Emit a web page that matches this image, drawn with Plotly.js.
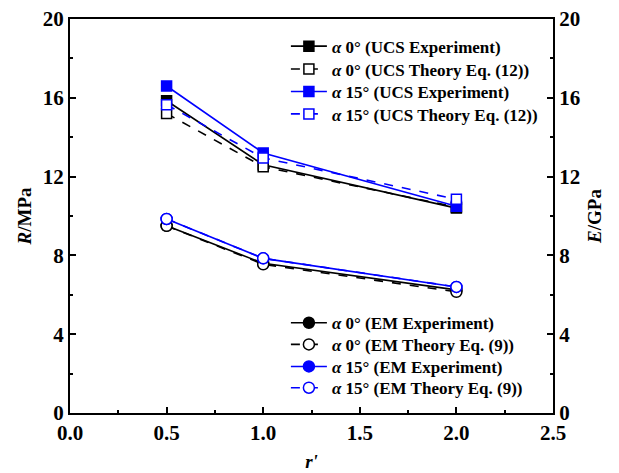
<!DOCTYPE html>
<html><head><meta charset="utf-8">
<script src="https://cdn.plot.ly/plotly-3.0.1.min.js"></script>
<style>body{margin:0;background:#fff}</style></head>
<body><div id="chart" style="width:619px;height:473px"></div>
<script>
const rPrime = [0.5, 1.0, 2.0];
const ucsExp0 = [15.85, 12.6, 10.4];
const ucsTheory0 = [15.2, 12.5, 10.45];
const ucsExp15 = [16.6, 13.2, 10.5];
const ucsTheory15 = [15.65, 12.95, 10.85];
const emExp0 = [9.5, 7.6, 6.25];
const emTheory0 = [9.5, 7.55, 6.15];
const emExp15 = [9.85, 7.85, 6.4];
const emTheory15 = [9.85, 7.85, 6.4];
const seriesNames = [
  '<i>α</i> 0° (UCS Experiment)', '<i>α</i> 0° (UCS Theory Eq. (12))',
  '<i>α</i> 15° (UCS Experiment)', '<i>α</i> 15° (UCS Theory Eq. (12))',
  '<i>α</i> 0° (EM Experiment)', '<i>α</i> 0° (EM Theory Eq. (9))',
  '<i>α</i> 15° (EM Experiment)', '<i>α</i> 15° (EM Theory Eq. (9))'
];
const xTickVals = [0, 0.5, 1.0, 1.5, 2.0, 2.5];
const xTickText = ['0.0', '0.5', '1.0', '1.5', '2.0', '2.5'];
const yTickVals = [0, 4, 8, 12, 16, 20];
const yTickText = ['0', '4', '8', '12', '16', '20'];

const F = 'Liberation Serif';
const BLUE = '#0000ff';
const legendIds = ['legend','legend2','legend3','legend4','legend5','legend6','legend7','legend8'];
function tr(i, y, color, dash, symbol, open, yaxis){
  return {x: rPrime, y: y, name: '<b>' + seriesNames[i] + '</b>', type:'scatter', mode:'lines+markers',
    yaxis: yaxis, legend: legendIds[i],
    line:{color:color, width:1.6, dash:dash},
    marker:{symbol:symbol, size: symbol === 'square' ? 10 : 11, color: open ? '#fff' : color,
      line:{color:color, width:1.5}}};
}
const data = [
  tr(0, ucsExp0, '#000', 'solid', 'square', false, 'y'),
  tr(1, ucsTheory0, '#000', 'dash', 'square', true, 'y'),
  tr(2, ucsExp15, BLUE, 'solid', 'square', false, 'y'),
  tr(3, ucsTheory15, BLUE, 'dash', 'square', true, 'y'),
  tr(4, emExp0, '#000', 'solid', 'circle', false, 'y2'),
  tr(5, emTheory0, '#000', 'dash', 'circle', true, 'y2'),
  tr(6, emExp15, BLUE, 'solid', 'circle', false, 'y2'),
  tr(7, emTheory15, BLUE, 'dash', 'circle', true, 'y2')
];
const bold = a => a.map(s => '<b>' + s + '</b>');
const tickFont = {family:F, size:21, color:'#000', weight:'bold'};
const legFont = {family:F, size:17, color:'#000'};
const titleFont = {family:F, size:19, color:'#000'};
const minorY = {dtick:2, ticks:'inside', ticklen:3, tickwidth:2, tickcolor:'#000'};
const layout = {
  width:619, height:473,
  margin:{l:70, r:66, t:19, b:60},
  paper_bgcolor:'#fff', plot_bgcolor:'#fff',
  font:{family:F, color:'#000'},
  xaxis:{range:[0,2.5], tickmode:'array', tickvals:xTickVals, ticktext:bold(xTickText),
    showgrid:false, zeroline:false,
    showline:true, linewidth:2, linecolor:'#000', mirror:true,
    ticks:'inside', ticklen:6, tickwidth:2, tickcolor:'#000',
    minor:{dtick:0.25, ticks:'inside', ticklen:3, tickwidth:2, tickcolor:'#000'},
    tickfont:tickFont,
    title:{text:'<b><i>r\'</i></b>', font:titleFont, standoff:10}},
  yaxis:{range:[0,20], tickmode:'array', tickvals:yTickVals, ticktext:bold(yTickText),
    showgrid:false, zeroline:false,
    showline:true, linewidth:2, linecolor:'#000',
    ticks:'inside', ticklen:6, tickwidth:2, tickcolor:'#000',
    minor:minorY, tickfont:tickFont,
    title:{text:'<b><i>R</i>/MPa</b>', font:titleFont, standoff:6}},
  yaxis2:{range:[0,20], tickmode:'array', tickvals:yTickVals, ticktext:bold(yTickText),
    overlaying:'y', side:'right', showgrid:false, zeroline:false,
    showline:true, linewidth:2, linecolor:'#000',
    ticks:'inside', ticklen:6, tickwidth:2, tickcolor:'#000',
    minor:minorY, tickfont:tickFont,
    title:{text:'<b><i>E</i>/GPa</b>', font:titleFont, standoff:8}},
  showlegend:true
};
const rowY = [0.930, 0.872, 0.815, 0.758, 0.228, 0.173, 0.117, 0.063];
rowY.forEach((yy, i) => {
  layout[legendIds[i]] = {x:0.447, y:yy, xanchor:'left', yanchor:'middle', bgcolor:'rgba(0,0,0,0)',
    font:legFont, itemwidth:36, borderwidth:0};
});
Plotly.newPlot('chart', data, layout, {displayModeBar:false, staticPlot:true});
</script></body></html>
